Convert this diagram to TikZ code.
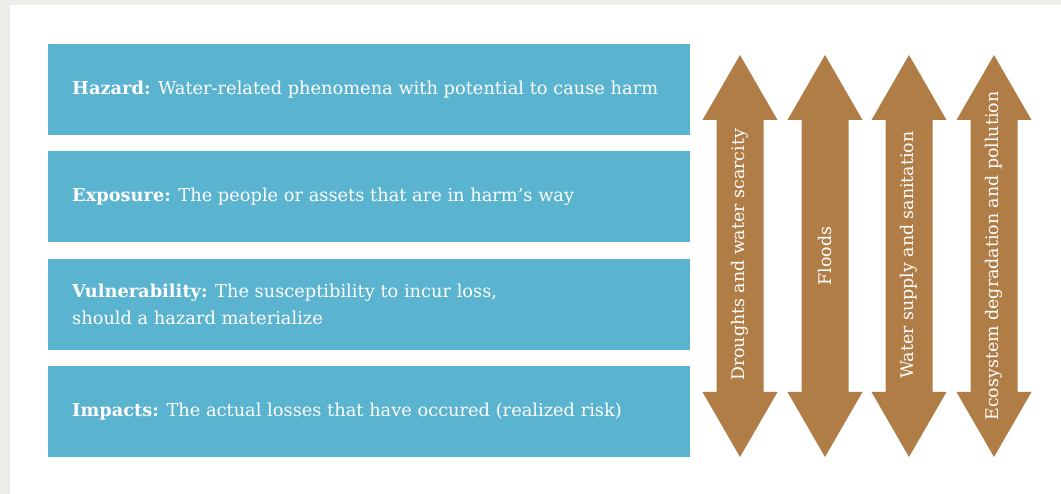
\documentclass[tikz,border=0pt]{standalone}
\usepackage{fontspec}
\setmainfont{DejaVu Serif}
\begin{document}
\begin{tikzpicture}[x=1pt,y=-1pt,
  boxfill/.style={fill=riskblue,draw=none},
  boxtext/.style={text=white,font=\fontsize{17.8}{27}\selectfont,align=left,anchor=west,inner sep=0pt},
  arrowfill/.style={fill=riskbrown,draw=none},
  arrowtext/.style={text=white,font=\fontsize{17.4}{20}\selectfont,rotate=90,inner sep=0pt}]
\definecolor{riskblue}{HTML}{5AB3CF}
\definecolor{riskbrown}{HTML}{B07D47}
\definecolor{pagegray}{HTML}{EDECE8}
% page frame
\useasboundingbox (0,0) rectangle (1061,494);
\fill[pagegray] (0,0) rectangle (1061,494);
\fill[white] (10,5) rectangle (1061,494);
% four risk components
\foreach \top/\name in {44/hz,151.3/ex,258.7/vu,366/im}{
  \fill[boxfill] (48,\top) rectangle (690,\top+91);
  \coordinate (\name) at (72,\top+45.5);
}
\node[boxtext] (hazard) at (hz) {\textbf{Hazard:} Water-related phenomena with potential to cause harm};
\node[boxtext] (exposure) at (ex) {\textbf{Exposure:} The people or assets that are in harm’s way};
\node[boxtext] (vulnerability) at (vu) {\textbf{Vulnerability:} The susceptibility to incur loss,\\should a hazard materialize};
\node[boxtext] (impacts) at (im) {\textbf{Impacts:} The actual losses that have occured (realized risk)};
% double-headed arrows for the water-related risk types
\foreach \cx in {740,825,909,994}{
  \fill[arrowfill] (\cx,55) -- (\cx+37.5,120) -- (\cx+23.5,120) -- (\cx+23.5,392)
    -- (\cx+37.5,392) -- (\cx,457) -- (\cx-37.5,392) -- (\cx-23.5,392)
    -- (\cx-23.5,120) -- (\cx-37.5,120) -- cycle;
}
\node[arrowtext] (droughts) at (740,255) {Droughts and water scarcity};
\node[arrowtext] (floods) at (825,256) {Floods};
\node[arrowtext] (water) at (909,255) {Water supply and sanitation};
\node[arrowtext] (ecosystem) at (994,256) {Ecosystem degradation and pollution};
\end{tikzpicture}
\end{document}
